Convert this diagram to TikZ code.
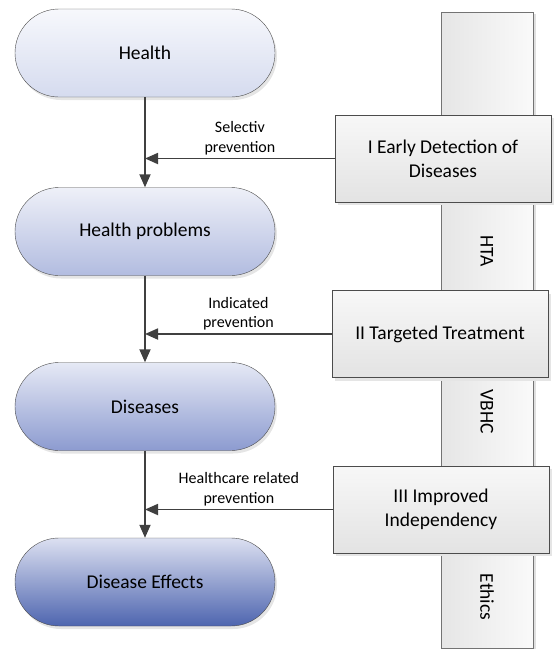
\documentclass[tikz,border=0pt]{standalone}
\usepackage{fontspec}
\setmainfont{Carlito}
\usepackage{tikz}
\usetikzlibrary{arrows.meta,calc,positioning,shadows}

\definecolor{linegray}{HTML}{404040}
\definecolor{healthtop}{HTML}{F7F8FC}
\definecolor{healthbot}{HTML}{D5DBEF}
\definecolor{problemtop}{HTML}{EEF0F8}
\definecolor{problembot}{HTML}{B2BCE0}
\definecolor{diseasetop}{HTML}{E6E9F5}
\definecolor{diseasebot}{HTML}{8C9BD0}
\definecolor{effecttop}{HTML}{DCE0F1}
\definecolor{effectbot}{HTML}{4E65AF}

\tikzset{
  stage/.style={draw=black!70, thin, rounded corners=44pt,
    minimum width=260pt, minimum height=88pt,
    font=\fontsize{19.5}{23.8}\selectfont,
    general shadow={fill=black!10, shadow xshift=2pt, shadow yshift=-3pt}},
  focusbox/.style={draw=black!70, thin, top color=black!3, bottom color=black!11,
    minimum width=216pt, minimum height=87pt, align=center,
    font=\fontsize{19.5}{23.8}\selectfont,
    general shadow={fill=black!10, shadow xshift=3pt, shadow yshift=-3pt}},
  pillar/.style={draw=black!55, thin, left color=black!10, right color=black!2},
  pillartext/.style={rotate=-90, font=\fontsize{19.5}{23.8}\selectfont},
  flow/.style={draw=linegray, line width=1.8pt, -{Triangle[length=13pt,width=11pt]}},
  note/.style={font=\fontsize{16}{19.5}\selectfont, align=center, inner sep=3pt}
}

\begin{document}
\begin{tikzpicture}[x=1pt,y=-1pt]
        \useasboundingbox (0,0) rectangle (557,649);
        %Side pillar
        \fill[black!12] (444,14) rectangle (536,649);
        \draw[pillar] (441,12) rectangle (533,648);
        \node[pillartext] (hta) at (487,251) {HTA};
        \node[pillartext] (vbhc) at (487,412) {VBHC};
        \node[pillartext] (ethics) at (487,597) {Ethics};
        %Draw stages
        \node[stage, top color=healthtop, bottom color=healthbot] (health) at (145,53) {Health};
        \node[stage, top color=problemtop, bottom color=problembot] (problems) at (145,231.5) {Health problems};
        \node[stage, top color=diseasetop, bottom color=diseasebot] (diseases) at (145,406.5) {Diseases};
        \node[stage, top color=effecttop, bottom color=effectbot] (effects) at (145,582) {Disease Effects};
        %Draw boxes
        \node[focusbox] (early) at (443,158.5) {I Early Detection of\\Diseases};
        \node[focusbox] (targeted) at (440,334) {II Targeted Treatment};
        \node[focusbox] (improved) at (441,509.5) {III Improved\\Independency};
        %Draw arrows
        \draw[flow] (health) -- (problems);
        \draw[flow] (problems) -- (diseases);
        \draw[flow] (diseases) -- (effects);
        \draw[flow] (early.west) -- node[note, above] {Selectiv\\prevention} (early.west -| health.south);
        \draw[flow] (targeted.west) -- node[note, above] {Indicated\\prevention} (targeted.west -| health.south);
        \draw[flow] (improved.west) -- node[note, above] {Healthcare related\\prevention} (improved.west -| health.south);
      \end{tikzpicture}
\end{document}
